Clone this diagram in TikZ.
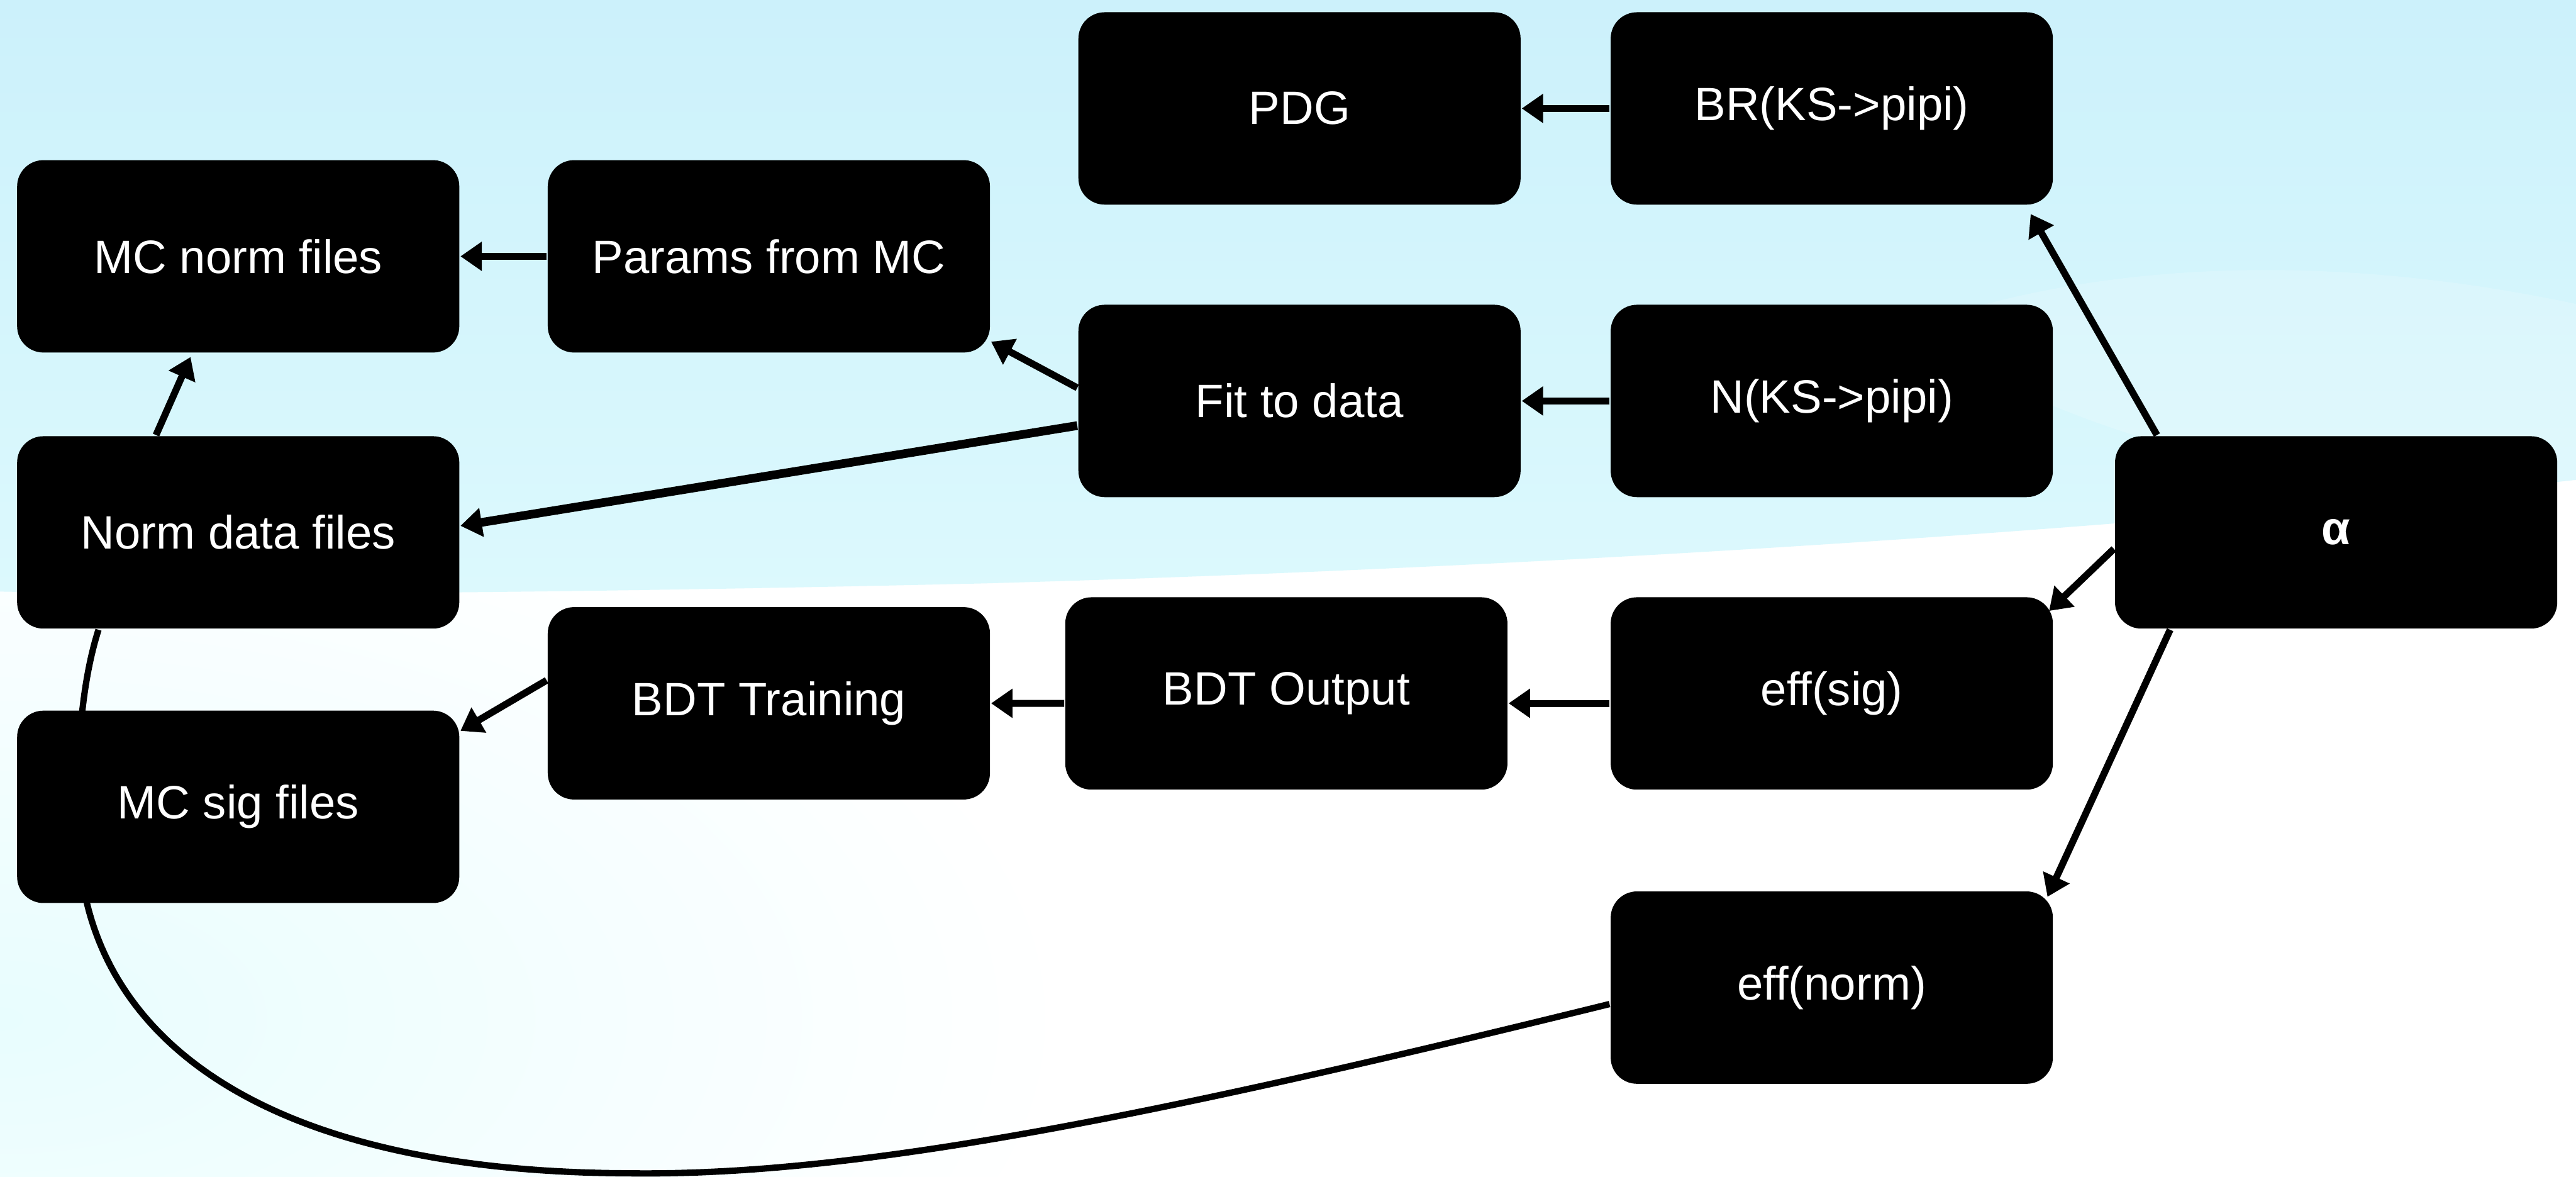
\documentclass[tikz,border=0pt]{standalone}
\usepackage{fontspec}
\setmainfont{Liberation Sans}
\usetikzlibrary{arrows.meta,calc}
\pgfdeclarelayer{bg}
\pgfdeclarelayer{lines}
\pgfsetlayers{bg,lines,main}
\definecolor{skytop}{RGB}{204,241,251}
\definecolor{skymid}{RGB}{220,249,253}
\definecolor{skylow}{RGB}{232,253,254}
\begin{document}
\begin{tikzpicture}[x=0.01cm,y=-0.01cm,
  box/.style={fill=black, text=white, rounded corners=0.16cm, minimum width=2.69cm,
    minimum height=1.17cm, inner sep=0pt, font=\fontsize{8.1}{10}\selectfont},
  conn/.style={line width=1.2pt, -{Triangle[length=0.13cm,width=0.17cm]}},
  curveline/.style={line width=1.1pt}]
\useasboundingbox (0,0) rectangle (1568,716);

% nodes
\node[box] (pdg) at (791,66) {PDG};
\node[box] (br) at (1115,66) {BR(KS->pipi)};
\node[box] (mcnorm) at (145,156) {MC norm files};
\node[box] (params) at (468,156) {Params from MC};
\node[box] (fit) at (791,244) {Fit to data};
\node[box] (nks) at (1115,244) {N(KS->pipi)};
\node[box] (alpha) at (1422,324) {\bfseries α};
\node[box] (norm) at (145,324) {Norm data files};
\node[box] (bdttrain) at (468,428) {BDT Training};
\node[box] (bdtout) at (783,422) {BDT Output};
\node[box] (effsig) at (1115,422) {eff(sig)};
\node[box] (mcsig) at (145,491) {MC sig files};
\node[box] (effnorm) at (1115,601) {eff(norm)};

% background
\begin{pgfonlayer}{bg}
\begin{scope}
\clip (0,0) rectangle (1568,716);
\fill[white] (0,0) rectangle (1568,716);
\shade[inner color=skylow, outer color=white] (0,620) ellipse (650 and 330);
\shade[top color=skytop, bottom color=skymid]
  (0,0) -- (1568,0) -- (1568,292) .. controls (1300,322) and (950,345) .. (600,355)
  .. controls (300,362) and (100,362) .. (0,360) -- cycle;
\fill[white, opacity=0.18] (1160,200) .. controls (1300,150) and (1450,160) .. (1568,185)
  -- (1568,292) .. controls (1450,300) and (1300,290) .. (1160,200) -- cycle;
\end{scope}
\end{pgfonlayer}

% connectors
\begin{pgfonlayer}{lines}
\draw[conn] (br.west) -- (pdg.east);
\draw[conn] (params.west) -- (mcnorm.east);
\draw[conn] (nks.west) -- (fit.east);
\draw[conn] ([yshift=0.08cm]fit.west) -- (params.-21);
\draw[conn, line width=1.5pt] ([yshift=-0.15cm]fit.west) -- ([yshift=0.04cm]norm.east);
\draw[conn] ([xshift=-0.5cm]norm.north) -- ([xshift=-0.29cm,yshift=-0.02cm]mcnorm.south);
\draw[conn] ([xshift=-1.09cm]alpha.north) -- ([xshift=1.21cm,yshift=-0.05cm]br.south);
\draw[conn] ([yshift=-0.1cm]alpha.west) -- ([xshift=-0.03cm,yshift=-0.09cm]effsig.north east);
\draw[conn] ([xshift=-1.01cm]alpha.south) -- ([xshift=-0.04cm,yshift=-0.04cm]effnorm.north east);
\draw[conn] ([yshift=-0.06cm]effsig.west) -- ([yshift=-0.06cm]bdtout.east);
\draw[conn] ([yshift=-0.06cm]bdtout.west) -- (bdttrain.east);
\draw[conn] ([yshift=0.14cm]bdttrain.west) -- ([yshift=-0.13cm]mcsig.north east);
\draw[curveline] ([yshift=-0.1cm]effnorm.west) .. controls (700,680) and (520,716) .. (382,714)
  .. controls (170,713) and (75,640) .. (53,550)
  .. controls (45,500) and (45,430) .. ([xshift=-0.85cm]norm.south);
\end{pgfonlayer}
\end{tikzpicture}
\end{document}
